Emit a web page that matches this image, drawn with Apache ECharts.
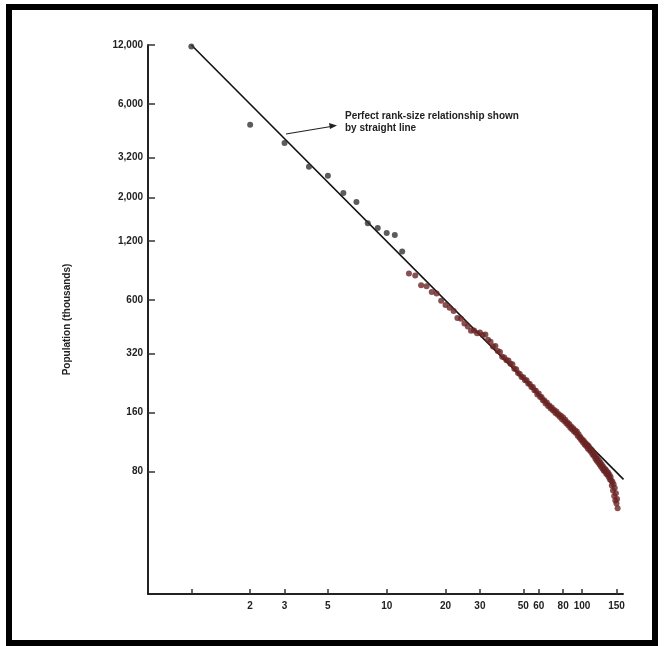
<!DOCTYPE html>
<html>
<head>
<meta charset="utf-8">
<script src="https://cdn.jsdelivr.net/npm/echarts@6/dist/echarts.min.js"></script>
<style>
  html, body { margin: 0; padding: 0; background: #fff; }
  #chart { width: 664px; height: 646px; }
</style>
</head>
<body>
<div id="chart"></div>
<script>
// population (thousands) of each city, index + 1 = rank
var population = [
  11800, 4700, 3800, 2870, 2580, 2110, 1900, 1480, 1400, 1320,
  1290, 1060, 820, 800, 715, 705, 660, 648, 596, 566,
  548, 528, 486, 482, 455, 440, 418, 420, 406, 410,
  398, 400, 376, 368, 348, 350, 330, 326, 308, 306,
  296, 295, 284, 282, 268, 266, 255, 252, 243, 242,
  234, 234, 225, 224, 216, 216, 208, 207, 198, 200,
  192, 192, 185, 185, 178, 180, 173, 174, 168, 170,
  164, 165, 159, 162, 156, 157, 152, 154, 148, 151,
  145, 147, 141, 143, 138, 140, 134, 136, 131, 133,
  128, 130, 126, 128, 122, 124, 119, 120, 116, 117,
  113, 115, 110, 112, 108, 110, 105, 108, 103, 105,
  101, 103, 98, 100, 96, 98, 93, 95, 91, 93,
  89, 91, 87, 89, 85, 87, 83, 85, 81, 83,
  80, 82, 78, 80, 77, 79, 75, 77, 73, 75,
  72, 68, 71, 64, 69, 60, 66, 57, 62, 55,
  58, 52
];
// perfect rank-size line: rank, population
var lineRanks = [1, 163];
var lineValues = [12000, 73];

var xTicks = [1, 2, 3, 5, 10, 20, 30, 50, 60, 80, 100, 150];
var xTickLabels = ['', '2', '3', '5', '10', '20', '30', '50', '60', '80', '100', '150'];
var yTicks = [12000, 6000, 3200, 2000, 1200, 600, 320, 160, 80];
var yTickLabels = ['12,000', '6,000', '3,200', '2,000', '1,200', '600', '320', '160', '80'];

var lg = Math.log10;

function labelFor(ticks, labels) {
  return function (v) {
    for (var i = 0; i < ticks.length; i++) {
      if (Math.abs(lg(ticks[i]) - v) < 1e-6) return labels[i];
    }
    return '';
  };
}

var points = population.map(function (p, i) { return [lg(i + 1), lg(p)]; });
var linePts = lineRanks.map(function (r, i) { return [lg(r), lg(lineValues[i])]; });

var chart = echarts.init(document.getElementById('chart'));
chart.setOption({
  backgroundColor: '#fff',
  animation: false,
  grid: { left: 148, right: 41, top: 45, bottom: 52 },
  xAxis: {
    type: 'value',
    min: lg(0.6),
    max: lg(162),
    splitLine: { show: false },
    axisLine: { onZero: false, lineStyle: { color: '#222', width: 2 } },
    axisTick: { inside: true, length: 5, lineStyle: { color: '#333', width: 1.5 }, customValues: xTicks.map(lg) },
    axisLabel: {
      customValues: xTicks.map(lg),
      formatter: labelFor(xTicks, xTickLabels),
      color: '#222', fontSize: 10, fontWeight: 'bold', fontFamily: 'Liberation Sans', margin: 7
    }
  },
  yAxis: {
    type: 'value',
    min: lg(19),
    max: lg(12000),
    name: 'Population (thousands)',
    nameLocation: 'middle',
    nameGap: 76,
    nameTextStyle: { color: '#222', fontSize: 10, fontWeight: 'bold', fontFamily: 'Liberation Sans' },
    splitLine: { show: false },
    axisLine: { onZero: false, lineStyle: { color: '#222', width: 2 } },
    axisTick: { inside: true, length: 7, lineStyle: { color: '#333', width: 1.5 }, customValues: yTicks.map(lg) },
    axisLabel: {
      customValues: yTicks.map(lg),
      formatter: labelFor(yTicks, yTickLabels),
      color: '#222', fontSize: 10, fontWeight: 'bold', fontFamily: 'Liberation Sans', margin: 5
    }
  },
  series: [
    {
      type: 'line',
      data: linePts,
      symbol: 'none',
      clip: false,
      lineStyle: { color: '#111', width: 1.6 },
      z: 3
    },
    {
      type: 'scatter',
      data: points,
      symbolSize: 6,
      itemStyle: {
        color: function (p) { return p.dataIndex < 12 ? '#333' : '#6a2424'; }
      },
      z: 4
    }
  ],
  graphic: [
    {
      type: 'rect',
      shape: { x: 9, y: 7, width: 646, height: 636 },
      style: { fill: 'none', stroke: '#000', lineWidth: 6 }
    },
    {
      type: 'line',
      shape: { x1: 286, y1: 134, x2: 334, y2: 126 },
      style: { stroke: '#222', lineWidth: 1.2 }
    },
    {
      type: 'polygon',
      shape: { points: [[337, 125.5], [329, 123], [330, 129]] },
      style: { fill: '#222' }
    },
    {
      type: 'text',
      left: 345,
      top: 110,
      style: {
        text: 'Perfect rank-size relationship shown\nby straight line',
        fill: '#222',
        font: 'bold 10px "Liberation Sans"',
        lineHeight: 12
      }
    }
  ]
});
</script>
</body>
</html>
